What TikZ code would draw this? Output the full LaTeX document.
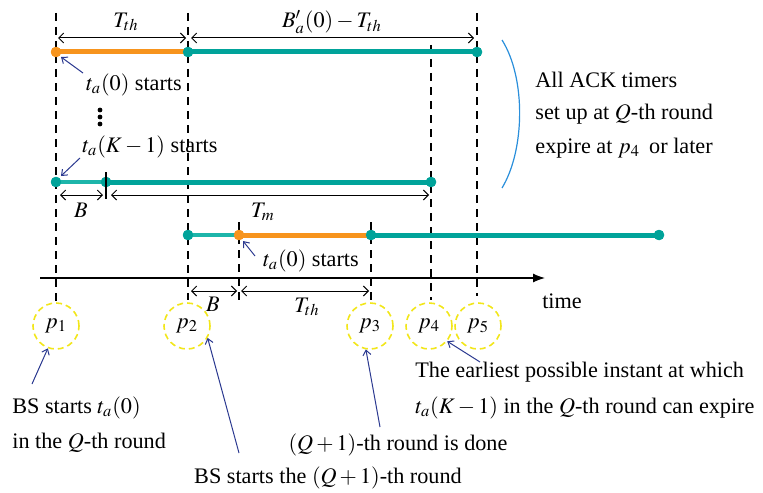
\documentclass[tikz,border=0pt]{standalone}
\usepackage{mathptmx}
\usepackage{fontspec}
\setmainfont{Liberation Serif}
\usetikzlibrary{arrows.meta}
\definecolor{orng}{HTML}{F7941D}
\definecolor{tealc}{HTML}{00A39A}
\definecolor{ltealc}{HTML}{1DB5AA}
\definecolor{dbluec}{HTML}{2B3990}
\definecolor{arcbluec}{HTML}{2A8FDB}
\definecolor{ylwc}{HTML}{F2E61A}
\tikzset{
  guide/.style={line width=0.7pt, dash pattern=on 4pt off 3pt},
  segthick/.style={line width=2.5pt},
  segthin/.style={line width=2pt, ltealc},
  dotn/.style={circle, fill=#1, inner sep=0pt, minimum size=5.2pt},
  smalldot/.style={circle, fill=black, inner sep=0pt, minimum size=2.4pt},
  dimarrow/.style={{Straight Barb[length=2.5pt,width=5pt]}-{Straight Barb[length=2.5pt,width=5pt]}, line width=0.5pt},
  annarrow/.style={dbluec, line width=0.5pt, -{Straight Barb[length=2.5pt,width=4pt]}},
  pcirc/.style={circle, draw=ylwc, dash pattern=on 3pt off 2pt, line width=0.8pt, minimum size=23pt, inner sep=0pt},
  lbl/.style={inner sep=0pt},
}
\begin{document}
\begin{tikzpicture}[x=0.5pt,y=-0.5pt, font=\fontsize{11.1}{13}\selectfont]
\useasboundingbox (0,0) rectangle (763,492);

% circles with p labels
\node[pcirc] (c1) at (56,326) {$p_1$};
\node[pcirc] (c2) at (187,326) {$p_2$};
\node[pcirc] (c3) at (370,326) {$p_3$};
\node[pcirc] (c4) at (429,326) {$p_4$};
\node[pcirc] (c5) at (478,326) {$p_5$};

% guide lines
\coordinate (g1t) at (56,13);   \coordinate (g1b) at (56,302);
\coordinate (g2t) at (188,13);  \coordinate (g2b) at (188,300);
\coordinate (g3t) at (239,222); \coordinate (g3b) at (239,300);
\coordinate (g4t) at (371,222); \coordinate (g4b) at (371,300);
\coordinate (g5t) at (431,45);  \coordinate (g5b) at (431,300);
\coordinate (g6t) at (477,13);  \coordinate (g6b) at (477,296);
\foreach \i in {1,...,6} \draw[guide] (g\i t) -- (g\i b);

% row 1
\node[dotn=orng] (r1a) at (56,52) {};
\node[dotn=tealc] (r1b) at (188,52) {};
\node[dotn=tealc] (r1c) at (477,52) {};
\draw[segthick, orng] (r1a.center) -- (r1b.center);
\draw[segthick, tealc] (r1b.center) -- (r1c.center);
\node[dotn=orng] at (r1a) {};
\node[dotn=tealc] at (r1b) {};
\node[dotn=tealc] at (r1c) {};

\coordinate (d1a) at (58,38); \coordinate (d1b) at (186,38); \coordinate (d1c) at (191,38); \coordinate (d1d) at (474,38);
\draw[dimarrow] (d1a) -- (d1b);
\draw[dimarrow] (d1c) -- (d1d);
\node[lbl] (lTth1) at (126,22) {$T_{th}$};
\node[lbl] (lBa) at (332,22) {$B'_a(0)-T_{th}$};

\node[lbl] (ls1) at (134,85) {$t_a(0)$ starts};
\coordinate (a1s) at (83,73); \coordinate (a1e) at (61,57);
\draw[annarrow] (a1s) -- (a1e);
\node[smalldot] (vd1) at (100,110) {};
\node[smalldot] (vd2) at (100,117) {};
\node[smalldot] (vd3) at (100,124) {};
\node[lbl] (ls2) at (150,147) {$t_a(K-1)$ starts};
\coordinate (a2s) at (80,158); \coordinate (a2e) at (61,176);
\draw[annarrow] (a2s) -- (a2e);

% row 2
\node[dotn=tealc] (r2a) at (56,182) {};
\node[dotn=tealc] (r2b) at (106,182) {};
\node[dotn=tealc] (r2c) at (431,182) {};
\draw[segthin] (r2a.center) -- (r2b.center);
\draw[segthick, tealc] (r2b.center) -- (r2c.center);
\node[dotn=tealc] at (r2a) {};
\node[dotn=tealc] at (r2b) {};
\node[dotn=tealc] at (r2c) {};
\coordinate (tk1) at (106,172); \coordinate (tk2) at (106,199);
\draw[line width=0.6pt] (tk1) -- (tk2);
\coordinate (d2a) at (60,195); \coordinate (d2b) at (103,195); \coordinate (d2c) at (111,195); \coordinate (d2d) at (429,195);
\draw[dimarrow] (d2a) -- (d2b);
\draw[dimarrow] (d2c) -- (d2d);
\node[lbl] (lB1) at (81,210) {$B$};
\node[lbl] (lTm) at (263,212) {$T_m$};

% row 3
\node[dotn=tealc] (r3a) at (188,235) {};
\node[dotn=orng] (r3b) at (239,235) {};
\node[dotn=tealc] (r3c) at (371,235) {};
\node[dotn=tealc] (r3d) at (659,235) {};
\draw[segthin] (r3a.center) -- (r3b.center);
\draw[segthick, orng] (r3b.center) -- (r3c.center);
\draw[segthick, tealc] (r3c.center) -- (r3d.center);
\node[dotn=tealc] at (r3a) {};
\node[dotn=orng] at (r3b) {};
\node[dotn=tealc] at (r3c) {};
\node[dotn=tealc] at (r3d) {};
\node[lbl] (ls3) at (311,261) {$t_a(0)$ starts};
\coordinate (a3s) at (255,256); \coordinate (a3e) at (243,241);
\draw[annarrow] (a3s) -- (a3e);

% time axis
\coordinate (ax1) at (40,278); \coordinate (ax2) at (545,278);
\draw[line width=0.6pt, -{Latex[length=6pt,width=4.5pt]}] (ax1) -- (ax2);
\node[lbl] (ltime) at (562,301) {time};

\coordinate (d3a) at (191,291); \coordinate (d3b) at (237,291); \coordinate (d3c) at (241,291); \coordinate (d3d) at (369,291);
\draw[dimarrow] (d3a) -- (d3b);
\draw[dimarrow] (d3c) -- (d3d);
\node[lbl] (lB2) at (213,304) {$B$};
\node[lbl] (lTth2) at (307,307) {$T_{th}$};

% right arc and text
\coordinate (arc1) at (502,40); \coordinate (arcc1) at (526,78); \coordinate (arcc2) at (525,150); \coordinate (arc2) at (502,188);
\draw[arcbluec, line width=0.6pt] (arc1) .. controls (arcc1) and (arcc2) .. (arc2);
\node[lbl, anchor=west] (rt1) at (535,80) {All ACK timers};
\node[lbl, anchor=west] (rt2) at (535,114) {set up at $Q$-th round};
\node[lbl, anchor=west] (rt3) at (535,148) {expire at $p_4$\, or later};

% bottom annotations
\node[lbl, anchor=west] (b1a) at (12,408) {BS starts $t_a(0)$};
\node[lbl, anchor=west] (b1b) at (12,443) {in the $Q$-th round};
\coordinate (b1s) at (32,384);
\draw[annarrow] (b1s) -- (c1.250);

\node[lbl] (b2) at (328,478) {BS starts the $(Q+1)$-th round};
\coordinate (b2s) at (239,453);
\draw[annarrow] (b2s) -- (c2.-30);

\node[lbl] (b3) at (398,445) {$(Q+1)$-th round is done};
\coordinate (b3s) at (380,427);
\draw[annarrow] (b3s) -- (c3.-100);

\node[lbl, anchor=west] (b4a) at (415,372) {The earliest possible instant at which};
\node[lbl, anchor=west] (b4b) at (415,408) {$t_a(K-1)$ in the $Q$-th round can expire};
\coordinate (b4s) at (480,362);
\draw[annarrow] (b4s) -- (c4.-40);
\end{tikzpicture}
\end{document}
